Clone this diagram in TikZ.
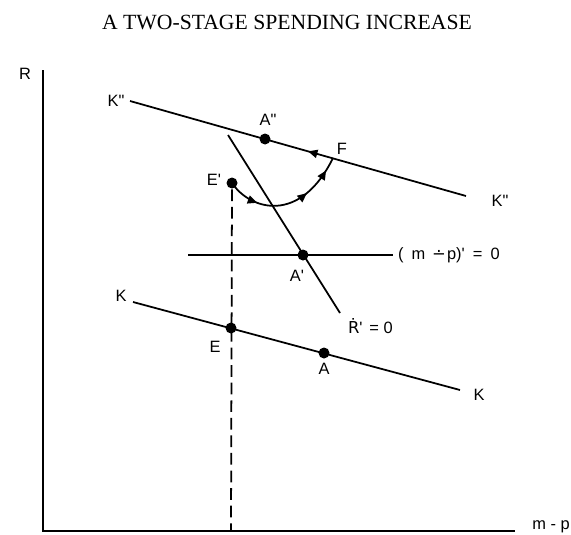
\documentclass[tikz,border=0pt]{standalone}
\usepackage{fontspec}
\newfontfamily\lblfont{Liberation Sans}
\newfontfamily\ttlfont{Liberation Serif}
\newfontfamily\symfont{DejaVu Sans}
\usetikzlibrary{arrows.meta,positioning,decorations.markings}

\begin{document}
\begin{tikzpicture}[x=0.03cm,y=-0.03cm,line width=1.5pt,
  >={Triangle[length=8pt,width=7pt]},
  lbl/.style={font=\lblfont\fontsize{14}{16}\selectfont,inner sep=1pt},
  pt/.style={circle,fill,inner sep=0pt,minimum size=0.33cm}]
\useasboundingbox (0,0) rectangle (571,534);
\node[font=\ttlfont\fontsize{18.5}{22}\selectfont] (title) at (287,22) {A TWO-STAGE SPENDING INCREASE};
\coordinate (o) at (43,531);
\coordinate (ytop) at (43,70);
\coordinate (xend) at (515,531);
\draw (ytop) -- (o) -- (xend);
\node[lbl] (R) at (25,74) {R};
\node[lbl] (mp) at (551,527) {m - p};
\coordinate (k2a) at (130,101);
\coordinate (k2b) at (466,196);
\coordinate (ka) at (133,302);
\coordinate (kb) at (460,390);
\coordinate (rtop) at (228,135);
\coordinate (rbot) at (340,313);
\coordinate (ha) at (188,255);
\coordinate (hb) at (393,255);
\coordinate (F) at (333,158);
\draw[postaction=decorate,decoration={markings,mark=at position 0.53 with {\arrowreversed{>}}}] (k2a) -- (k2b);
\draw (ka) -- (kb);
\draw (rtop) -- (rbot);
\draw (ha) -- (hb);
\node[pt] (Add) at (265,139) {};
\node[pt] (Ep) at (232,183) {};
\node[pt] (Ap) at (303,255) {};
\node[pt] (E) at (231,328) {};
\node[pt] (A) at (324,353) {};
\coordinate (Eo) at (231,531);
\draw[dash pattern=on 10pt off 5pt] (Ep) -- (Eo);
\draw[postaction=decorate,decoration={markings,
  mark=at position 0.25 with {\arrow{>}},
  mark=at position 0.66 with {\arrow{>}},
  mark=at position 0.89 with {\arrow{>}}}]
  (Ep.center) .. controls (250,210) and (300,225) .. (F);
\node[lbl,left=3pt of k2a] (k2l) {K"};
\node[lbl] (k2r) at (500,201) {K"};
\node[lbl] (kl) at (121,296) {K};
\node[lbl] (kr) at (479,395) {K};
\node[lbl] (Addl) at (268,120) {A"};
\node[lbl] (Fl) at (342,149) {F};
\node[lbl] (Epl) at (214,180) {E'};
\node[lbl] (Apl) at (297,276) {A'};
\node[lbl] (El) at (215,347) {E};
\node[lbl] (Al) at (324,369) {A};
\node[lbl,anchor=west] (rl) at (346,326) {{\symfont Ṙ}'\hspace{2pt} = 0};
\node[lbl,anchor=west] (hl) at (396,255) {(\hspace{3pt} m\hspace{2pt} {\symfont ∸}\hspace{1pt}p)'\hspace{3pt} =\hspace{3pt} 0};
\end{tikzpicture}
\end{document}
